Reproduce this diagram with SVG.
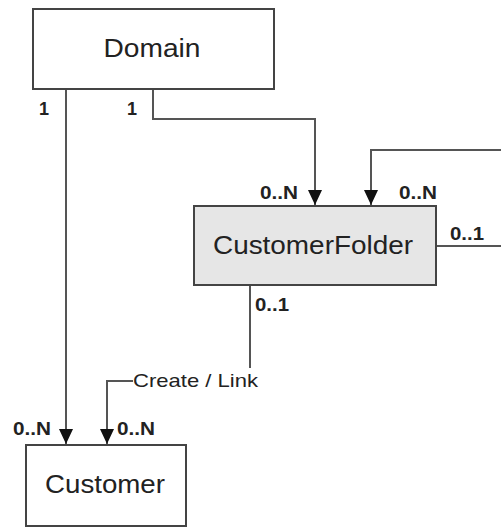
<svg xmlns="http://www.w3.org/2000/svg" width="501" height="527" viewBox="0 0 501 527">
<style>
.box{fill:#fff;stroke:#444;stroke-width:2}
.fold{fill:#e6e6e6;stroke:#444;stroke-width:2}
.name{font-family:"Liberation Sans",Arial,sans-serif;font-size:25px;fill:#222;text-anchor:middle}
.card{font-family:"Liberation Sans",Arial,sans-serif;font-size:18px;font-weight:bold;fill:#222}
.lbl{font-family:"Liberation Sans",Arial,sans-serif;font-size:19px;fill:#222}
.conn{fill:none;stroke:#555;stroke-width:2}
</style>
<defs>
<marker id="arr" markerWidth="15" markerHeight="14" refX="15" refY="7" orient="auto" markerUnits="userSpaceOnUse" viewBox="0 0 15 14">
<path d="M0,0 L15,7 L0,14 Z" fill="#111"/>
</marker>
</defs>
<g id="connectors">
<path class="conn" d="M66,89 V444" marker-end="url(#arr)"/>
<path class="conn" d="M153,89 V119 H315 V205" marker-end="url(#arr)"/>
<path class="conn" d="M501,150 H371 V205" marker-end="url(#arr)"/>
<path class="conn" d="M436,246 H501"/>
<path class="conn" d="M250,285 V368"/>
<path class="conn" d="M133,381 H107 V444" marker-end="url(#arr)"/>
<text class="lbl" x="133" y="387" textLength="125" lengthAdjust="spacingAndGlyphs">Create / Link</text>
<text class="card" x="39" y="115">1</text>
<text class="card" x="127" y="115">1</text>
<text class="card" x="260" y="199" textLength="38" lengthAdjust="spacingAndGlyphs">0..N</text>
<text class="card" x="399" y="199" textLength="38" lengthAdjust="spacingAndGlyphs">0..N</text>
<text class="card" x="450" y="240" textLength="34" lengthAdjust="spacingAndGlyphs">0..1</text>
<text class="card" x="255" y="311" textLength="34" lengthAdjust="spacingAndGlyphs">0..1</text>
<text class="card" x="13" y="435" textLength="38" lengthAdjust="spacingAndGlyphs">0..N</text>
<text class="card" x="117" y="435" textLength="38" lengthAdjust="spacingAndGlyphs">0..N</text>
</g>
<g id="domain">
<rect class="box" x="33" y="9" width="241" height="80"/>
<text class="name" x="152" y="57" textLength="97" lengthAdjust="spacingAndGlyphs">Domain</text>
</g>
<g id="customerfolder">
<rect class="fold" x="194" y="206" width="242" height="79"/>
<text class="name" x="313" y="254" textLength="200" lengthAdjust="spacingAndGlyphs">CustomerFolder</text>
</g>
<g id="customer">
<rect class="box" x="26" y="445" width="160" height="81"/>
<text class="name" x="105" y="493" textLength="120" lengthAdjust="spacingAndGlyphs">Customer</text>
</g>
</svg>
